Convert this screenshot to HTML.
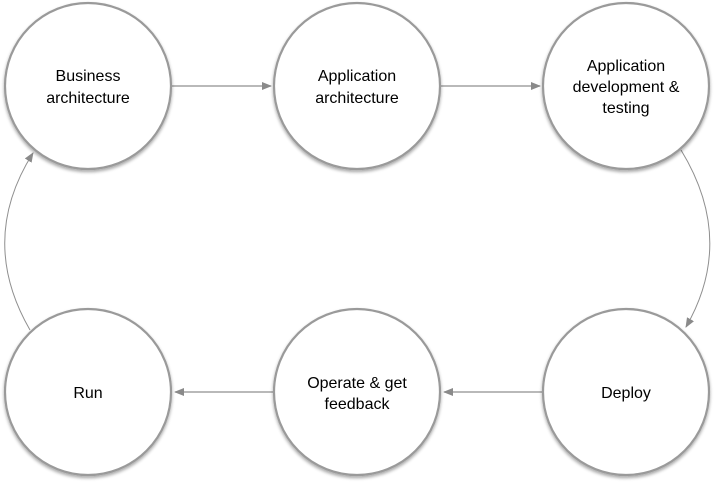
<!DOCTYPE html>
<html><head><meta charset="utf-8"><style>
html,body{margin:0;padding:0;background:#fff;}
svg{display:block;}
text{font-family:"Liberation Sans",Helvetica,Arial,sans-serif;font-size:16px;fill:#000;text-anchor:middle;}
</style></head><body>
<svg width="714" height="482" viewBox="0 0 714 482" xmlns="http://www.w3.org/2000/svg">
<defs>
<filter id="sh" x="-10%" y="-10%" width="120%" height="125%">
<feGaussianBlur in="SourceAlpha" stdDeviation="1.5"/>
<feOffset dx="0" dy="2" result="b"/>
<feComponentTransfer><feFuncA type="linear" slope="0.35"/></feComponentTransfer>
<feMerge><feMergeNode/><feMergeNode in="SourceGraphic"/></feMerge>
</filter>
<marker id="ar" markerWidth="10" markerHeight="8" refX="9" refY="4" orient="auto" markerUnits="userSpaceOnUse">
<path d="M0,0 L10,4 L0,8 Z" fill="#8a8a8a"/>
</marker>
</defs>
<g stroke="#8f8f8f" stroke-width="1.3" fill="none">
<line x1="172" y1="86" x2="271" y2="86" marker-end="url(#ar)"/>
<line x1="441" y1="86" x2="540" y2="86" marker-end="url(#ar)"/>
<line x1="543" y1="392" x2="444" y2="392" marker-end="url(#ar)"/>
<line x1="274" y1="392" x2="175" y2="392" marker-end="url(#ar)"/>
<path d="M681,150 Q736,240 686,327" stroke-width="1" marker-end="url(#ar)"/>
<path d="M30,330 Q-22,240 33,153" stroke-width="1" marker-end="url(#ar)"/>
</g>
<g fill="#fff" stroke="#9a9a9a" stroke-width="2.2" filter="url(#sh)">
<circle cx="88" cy="86" r="83"/>
<circle cx="357" cy="86" r="83"/>
<circle cx="626" cy="86" r="83"/>
<circle cx="88" cy="392" r="83"/>
<circle cx="357" cy="392" r="83"/>
<circle cx="626" cy="392" r="83"/>
</g>
<text x="88" y="81">Business</text>
<text x="88" y="103">architecture</text>
<text x="357" y="81">Application</text>
<text x="357" y="103">architecture</text>
<text x="626" y="71">Application</text>
<text x="626" y="92">development &amp;</text>
<text x="626" y="113">testing</text>
<text x="88" y="398">Run</text>
<text x="357" y="388">Operate &amp; get</text>
<text x="357" y="409">feedback</text>
<text x="626" y="398">Deploy</text>
</svg>
</body></html>
